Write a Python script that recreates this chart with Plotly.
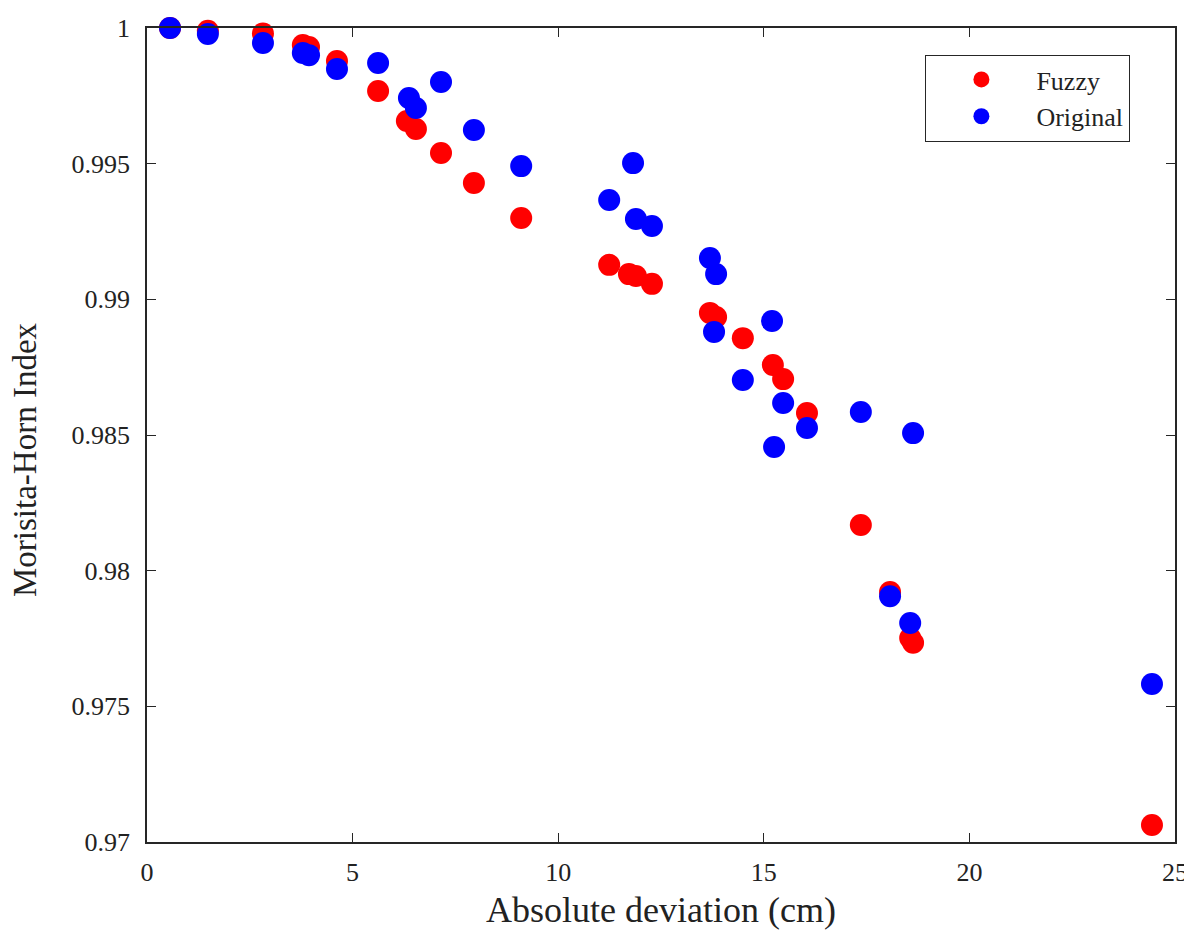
import plotly.graph_objects as go

fuzzy_x = [0.56, 1.48, 2.82, 3.79, 3.94, 4.62, 5.62, 6.32, 6.54, 7.15, 7.95, 9.10,
           11.24, 11.72, 11.89, 12.28, 13.69, 13.84, 14.49, 15.22, 15.47, 16.05,
           17.36, 18.07, 18.56, 18.63, 24.44]
fuzzy_y = [1.0000, 0.99990, 0.99980, 0.99937, 0.99930, 0.99878, 0.99768, 0.99657,
           0.99628, 0.99539, 0.99429, 0.99300, 0.99127, 0.99093, 0.99086, 0.99057,
           0.98950, 0.98935, 0.98857, 0.98758, 0.98706, 0.98581, 0.98168, 0.97921,
           0.97752, 0.97734, 0.97063]

orig_x = [0.56, 1.48, 2.82, 3.79, 3.94, 4.62, 5.62, 6.37, 6.54, 7.15, 7.95, 9.10,
          11.24, 11.82, 11.89, 12.28, 13.69, 13.84, 13.79, 15.20, 14.49, 15.47,
          16.05, 15.25, 17.36, 18.63, 18.07, 18.56, 24.44]
orig_y = [1.0000, 0.99978, 0.99945, 0.99908, 0.99900, 0.99849, 0.99871, 0.99742,
          0.99705, 0.99801, 0.99624, 0.99491, 0.99366, 0.99502, 0.99296, 0.99270,
          0.99152, 0.99093, 0.98880, 0.98920, 0.98703, 0.98618, 0.98526, 0.98456,
          0.98585, 0.98507, 0.97906, 0.97807, 0.97582]

x_ticks = [0, 5, 10, 15, 20, 25]
y_ticks = [0.97, 0.975, 0.98, 0.985, 0.99, 0.995, 1.0]
y_tick_text = ["0.97", "0.975", "0.98", "0.985", "0.99", "0.995", "1"]

FONT = "Liberation Serif"
AX = "#262626"

fig = go.Figure()
fig.add_trace(go.Scatter(x=fuzzy_x, y=fuzzy_y, mode="markers", name="Fuzzy",
                         marker=dict(color="#ff0000", size=22, line=dict(width=0)),
                         cliponaxis=False))
fig.add_trace(go.Scatter(x=orig_x, y=orig_y, mode="markers", name="Original",
                         marker=dict(color="#0000ff", size=22, line=dict(width=0)),
                         cliponaxis=False))

axis_common = dict(showline=True, linecolor=AX, linewidth=1.5, mirror="ticks",
                   ticks="inside", ticklen=9, tickwidth=1.2, tickcolor=AX,
                   showgrid=False, zeroline=False, automargin=False,
                   tickfont=dict(family=FONT, size=26, color="#222"))

# page body has an 8px margin: figure is sized so the plot area lands on the reference's pixels
W, H = 1184, 930
L, R, T, B = 139, 17, 20, 96
PW, PH = W - L - R, H - T - B

fig.update_layout(
    width=W, height=H,
    margin=dict(l=L, r=R, t=T, b=B),
    plot_bgcolor="white", paper_bgcolor="white",
    font=dict(family=FONT, color="#222"),
    xaxis=dict(range=[0, 25], tickvals=x_ticks, ticklabelstandoff=6, **axis_common),
    yaxis=dict(range=[0.97, 1.0], tickvals=y_ticks, ticktext=y_tick_text,
               ticklabelstandoff=10, **axis_common),
    legend=dict(x=0.757, y=0.967, xanchor="left", yanchor="top",
                bordercolor=AX, borderwidth=1.2, bgcolor="white",
                font=dict(family=FONT, size=26, color="#222"),
                itemwidth=100, tracegroupgap=0, entrywidth=222),
    showlegend=True,
    annotations=[
        dict(text="Absolute deviation (cm)", xref="paper", yref="paper",
             x=0.5, y=-(910 - 8 - (T + PH)) / PH, xanchor="center", yanchor="middle",
             showarrow=False, font=dict(family=FONT, size=36, color="#222")),
        dict(text="Morisita-Horn Index", xref="paper", yref="paper", textangle=-90,
             x=(25 - 8 - L) / PW, y=1 - (460 - 8 - T) / PH, xanchor="center", yanchor="middle",
             showarrow=False, font=dict(family=FONT, size=33, color="#222")),
    ],
)

fig.write_html("out.html")
